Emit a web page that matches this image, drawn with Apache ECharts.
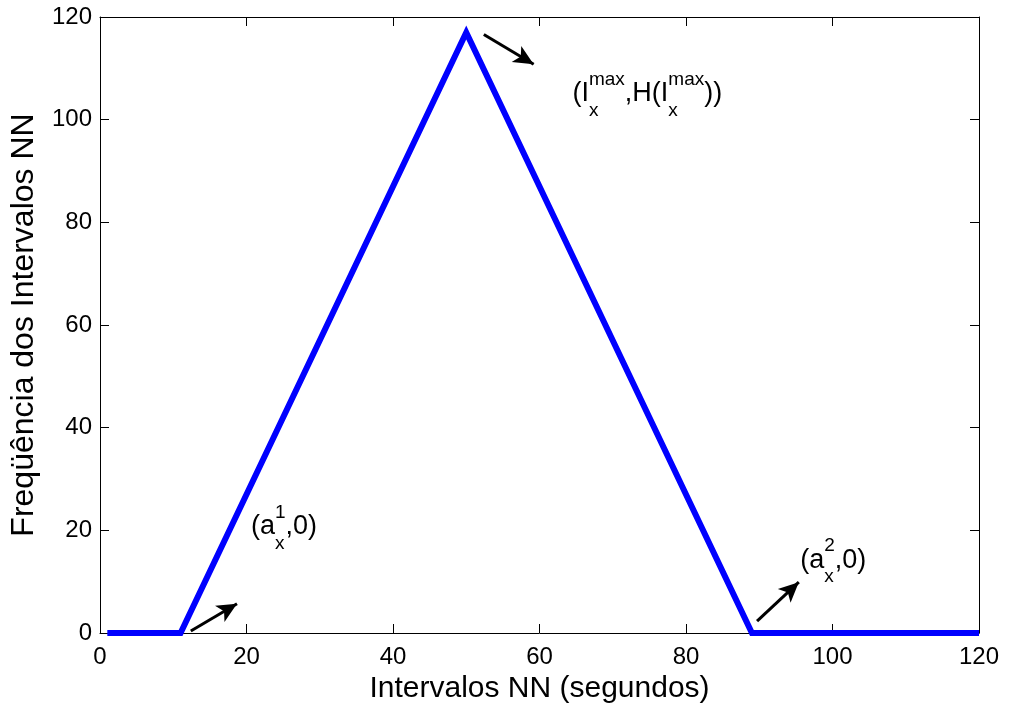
<!DOCTYPE html>
<html><head><meta charset="utf-8">
<script src="https://cdn.jsdelivr.net/npm/echarts@6/dist/echarts.min.js"></script>
<style>html,body{margin:0;padding:0;background:#fff}#c{width:1009px;height:710px}</style>
</head><body><div id="c"></div>
<script>
// Data
const xValues = [1, 11, 50, 89, 120];
const yValues = [0, 0, 117, 0, 0];
const xTicks = [0, 20, 40, 60, 80, 100, 120];
const yTicks = [0, 20, 40, 60, 80, 100, 120];
const xTitle = 'Intervalos NN (segundos)';
const yTitle = 'Freqüência dos Intervalos NN';
// arrows: [x1,y1,x2,y2] in data units
const arrows = [
  [12.4, 0.4, 18.7, 5.7],
  [52.4, 116.6, 59.2, 110.8],
  [89.7, 2.3, 95.4, 9.9]
];
// annotation anchors (data units, left / text-middle) and text pieces
const annotAnchors = [[20.6, 20.65], [95.6, 14.2], [64.5, 105.0]];
const annotPieces = [
  [['main','(a'],['supsub','1','x'],['main',',0)']],
  [['main','(a'],['supsub','2','x'],['main',',0)']],
  [['main','(I'],['supsub','max','x'],['main',',H(I'],['supsub','max','x'],['main','))']]
];

const FONT = 'Liberation Sans, Arial, Helvetica, sans-serif';
const chart = echarts.init(document.getElementById('c'), null, {renderer:'canvas'});
const axisCommon = {
  min: 0, max: 120, interval: 20,
  axisLine: {show: true, onZero: false, lineStyle: {color: '#000', width: 1}},
  axisTick: {show: true, inside: true, length: 9, lineStyle: {color: '#000', width: 1}},
  splitLine: {show: false},
};
const option = {
  animation: false,
  backgroundColor: '#fff',
  grid: {left: 99, right: 30, top: 17, bottom: 77, containLabel: false},
  xAxis: [
    Object.assign({type: 'value', position: 'bottom',
      name: xTitle, nameLocation: 'middle', nameGap: 36,
      nameTextStyle: {fontFamily: FONT, fontSize: 30, color: '#000'},
      axisLabel: {fontFamily: FONT, fontSize: 24, color: '#000', margin: 12,
        formatter: v => xTicks.includes(v) ? String(v) : ''}}, axisCommon),
    Object.assign({type: 'value', position: 'top', axisLabel: {show: false}}, axisCommon)
  ],
  yAxis: [
    Object.assign({type: 'value', position: 'left',
      name: yTitle, nameLocation: 'middle', nameGap: 60,
      nameTextStyle: {fontFamily: FONT, fontSize: 32, color: '#000'},
      axisLabel: {fontFamily: FONT, fontSize: 24, color: '#000', margin: 8,
        formatter: v => yTicks.includes(v) ? String(v) : ''}}, axisCommon),
    Object.assign({type: 'value', position: 'right', axisLabel: {show: false}}, axisCommon)
  ],
  series: [{
    type: 'line',
    data: xValues.map((x, i) => [x, yValues[i]]),
    symbol: 'none',
    lineStyle: {color: '#0000ff', width: 6, join: 'miter'},
    z: 3,
    markLine: {
      silent: true,
      symbol: ['none', 'arrow'],
      symbolSize: [14, 20],
      label: {show: false},
      lineStyle: {color: '#000', width: 3, type: 'solid'},
      data: arrows.map(a => [{coord: [a[0], a[1]]}, {coord: [a[2], a[3]]}])
    }
  }]
};
chart.setOption(option);

// annotation texts with stacked super/subscripts
const ctx = document.createElement('canvas').getContext('2d');
function w(t, size){ ctx.font = size + 'px ' + FONT; return ctx.measureText(t).width; }
const MAIN = 27, SMALL = 19, SUP_DY = -14, SUB_DY = 17;
const graphics = [];
annotAnchors.forEach((anc, k) => {
  const p = chart.convertToPixel({gridIndex: 0}, anc);
  let x = p[0];
  const y = p[1];
  annotPieces[k].forEach(pc => {
    if (pc[0] === 'main') {
      graphics.push({type: 'text', x: x, y: y, style: {text: pc[1], font: MAIN + 'px ' + FONT, fill: '#000', verticalAlign: 'middle'}});
      x += w(pc[1], MAIN);
    } else {
      graphics.push({type: 'text', x: x, y: y + SUP_DY, style: {text: pc[1], font: SMALL + 'px ' + FONT, fill: '#000', verticalAlign: 'middle'}});
      graphics.push({type: 'text', x: x, y: y + SUB_DY, style: {text: pc[2], font: SMALL + 'px ' + FONT, fill: '#000', verticalAlign: 'middle'}});
      x += Math.max(w(pc[1], SMALL), w(pc[2], SMALL));
    }
  });
});
chart.setOption({graphic: graphics});
</script>
</body></html>
